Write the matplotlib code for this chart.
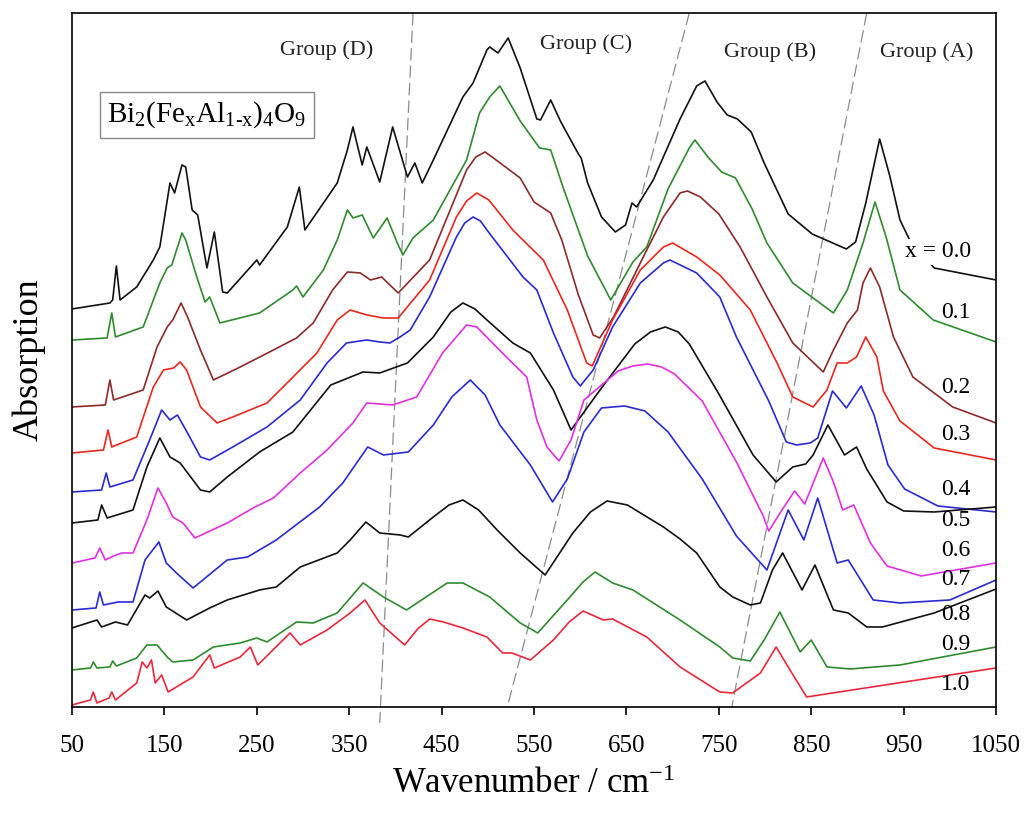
"""Far-IR absorption spectra of Bi2(FexAl1-x)4O9 for x = 0.0 ... 1.0,
stacked from top (x = 0.0) to bottom (x = 1.0), with the band groups A-D."""
import matplotlib
matplotlib.use("Agg")
import matplotlib.pyplot as plt

plt.rcParams['font.family'] = ['Liberation Serif', 'DejaVu Serif']
plt.rcParams['mathtext.fontset'] = 'custom'
plt.rcParams['mathtext.rm'] = 'Liberation Serif'
plt.rcParams['mathtext.it'] = 'Liberation Serif:italic'
plt.rcParams['mathtext.default'] = 'rm'

# spectra: wavenumber (cm-1) and stacked absorption (arb. units)
wn_00 = [50, 91, 94, 98, 102, 120, 138, 145, 156, 161, 169, 173, 180, 186, 196, 204, 213, 218, 250, 253,
         283, 296, 302, 337, 348, 354, 364, 369, 383, 397, 413, 421, 429, 441, 473, 484, 499, 502, 511, 522,
         535, 553, 557, 568, 579, 598, 601, 608, 623, 638, 649, 656, 661, 679, 708, 726, 735, 748, 759, 770,
         785, 799, 825, 851, 888, 898, 909, 924, 935, 946, 957, 983, 1050]
ab_00 = [398, 404, 407, 441, 407, 420, 447, 460, 524, 514, 542, 540, 497, 492, 439, 475, 415, 414, 447, 442,
         480, 520, 477, 524, 557, 580, 542, 560, 525, 580, 530, 544, 524, 547, 610, 624, 657, 660, 654, 669,
         639, 588, 587, 607, 585, 553, 549, 524, 490, 475, 482, 504, 500, 527, 588, 621, 626, 605, 592, 588,
         575, 544, 493, 473, 458, 465, 504, 568, 531, 487, 466, 439, 427]

wn_01 = [50, 88, 93, 97, 127, 145, 153, 158, 169, 173, 185, 194, 199, 210, 253, 289, 293, 300, 322, 337,
         348, 354, 364, 376, 391, 402, 408, 419, 441, 477, 491, 502, 513, 535, 556, 568, 582, 608, 633, 657,
         672, 695, 718, 724, 739, 753, 768, 786, 802, 830, 874, 889, 906, 919, 931, 946, 982, 1050]
ab_01 = [367, 369, 394, 370, 380, 424, 439, 442, 474, 467, 430, 405, 410, 384, 394, 417, 421, 410, 437, 467,
         497, 489, 492, 469, 489, 464, 452, 469, 487, 547, 594, 610, 621, 586, 559, 557, 518, 451, 407, 445,
         460, 518, 559, 567, 549, 535, 529, 498, 464, 424, 394, 417, 464, 505, 470, 417, 387, 365]

wn_02 = [50, 86, 91, 95, 127, 142, 153, 159, 168, 175, 189, 203, 232, 268, 293, 311, 332, 348, 362, 373,
         385, 403, 437, 477, 487, 497, 506, 535, 550, 568, 580, 598, 614, 621, 636, 672, 690, 708, 716, 730,
         750, 773, 802, 830, 863, 874, 889, 900, 906, 914, 924, 939, 960, 1003, 1050]
ab_02 = [300, 302, 327, 307, 317, 360, 380, 387, 404, 390, 357, 327, 340, 357, 369, 384, 417, 435, 434, 427,
         430, 414, 447, 537, 550, 555, 549, 529, 505, 494, 467, 412, 372, 369, 390, 457, 490, 514, 516, 510,
         493, 460, 410, 364, 335, 357, 384, 397, 424, 439, 420, 370, 330, 300, 284]

wn_03 = [50, 84, 89, 93, 120, 138, 149, 160, 167, 174, 189, 207, 224, 261, 286, 315, 337, 351, 369, 387,
         403, 437, 466, 477, 488, 501, 527, 549, 560, 586, 607, 613, 635, 665, 690, 700, 726, 751, 784, 813,
         830, 852, 867, 878, 889, 899, 909, 921, 928, 946, 983, 1050]
ab_03 = [254, 257, 277, 260, 270, 320, 337, 339, 345, 337, 300, 284, 290, 304, 327, 354, 387, 397, 392, 389,
         389, 427, 490, 506, 514, 507, 477, 457, 447, 397, 344, 341, 387, 437, 460, 464, 450, 432, 397, 344,
         310, 300, 317, 344, 344, 350, 370, 350, 316, 286, 259, 247]

wn_04 = [50, 82, 87, 91, 116, 134, 147, 156, 164, 175, 189, 199, 224, 261, 297, 326, 347, 369, 383, 394,
         405, 416, 437, 466, 475, 484, 492, 499, 538, 553, 571, 592, 600, 614, 635, 665, 690, 697, 726, 751,
         769, 804, 823, 834, 849, 857, 873, 888, 904, 918, 933, 951, 987, 1050]
ab_04 = [215, 217, 234, 220, 227, 267, 297, 287, 292, 274, 250, 247, 260, 280, 307, 344, 364, 367, 365, 364,
         370, 377, 410, 470, 484, 490, 486, 477, 430, 417, 374, 330, 321, 337, 380, 424, 444, 447, 434, 410,
         370, 306, 265, 262, 264, 269, 316, 299, 321, 292, 242, 218, 201, 195]

wn_05 = [50, 78, 82, 88, 116, 131, 145, 156, 167, 189, 199, 218, 253, 289, 330, 365, 383, 413, 441, 460,
         473, 486, 499, 527, 546, 571, 590, 623, 659, 676, 692, 706, 718, 750, 787, 812, 830, 844, 852, 868,
         886, 899, 910, 932, 950, 983, 1050]
ab_05 = [184, 187, 202, 189, 197, 240, 269, 250, 244, 217, 215, 230, 255, 275, 322, 335, 334, 344, 370, 395,
         404, 398, 387, 364, 354, 317, 277, 319, 363, 375, 380, 375, 363, 313, 252, 225, 240, 243, 252, 282,
         252, 260, 238, 205, 196, 195, 200]

wn_06 = [50, 75, 80, 86, 95, 104, 116, 131, 143, 152, 159, 170, 183, 218, 246, 268, 297, 326, 354, 369,
         397, 423, 451, 477, 488, 520, 542, 553, 564, 577, 590, 604, 641, 657, 673, 688, 702, 732, 769, 798,
         804, 819, 832, 843, 863, 874, 884, 896, 914, 932, 969, 1050]
ab_06 = [144, 149, 159, 147, 151, 154, 154, 187, 219, 204, 190, 184, 169, 184, 199, 209, 234, 257, 284, 304,
         302, 310, 354, 382, 380, 350, 330, 287, 260, 246, 267, 307, 336, 341, 343, 340, 333, 306, 245, 191,
         176, 198, 216, 203, 249, 225, 197, 202, 164, 141, 131, 144]

wn_07 = [50, 76, 80, 84, 100, 116, 129, 144, 152, 163, 181, 218, 240, 271, 318, 343, 370, 387, 405, 414,
         441, 461, 481, 497, 513, 546, 570, 586, 604, 623, 648, 670, 695, 732, 769, 802, 825, 842, 857, 878,
         890, 917, 946, 1000, 1050]
ab_07 = [97, 99, 115, 102, 105, 105, 147, 165, 144, 134, 119, 147, 150, 167, 200, 224, 260, 252, 254, 255,
         282, 310, 327, 312, 282, 242, 205, 228, 275, 299, 301, 296, 275, 228, 171, 137, 197, 167, 209, 144,
         147, 107, 104, 107, 127]

wn_08 = [50, 77, 82, 97, 110, 129, 134, 143, 152, 174, 199, 218, 253, 271, 297, 337, 351, 368, 383, 405,
         414, 441, 458, 473, 490, 510, 535, 562, 592, 611, 629, 651, 690, 708, 726, 751, 765, 784, 795, 808,
         819, 840, 854, 874, 890, 910, 927, 983, 1050]
ab_08 = [79, 87, 80, 85, 82, 112, 109, 116, 100, 87, 99, 107, 117, 120, 140, 154, 167, 185, 174, 172,
         170, 190, 202, 207, 197, 177, 154, 132, 174, 195, 206, 202, 180, 168, 154, 120, 110, 102, 104, 137,
         154, 117, 142, 97, 94, 80, 80, 94, 118]

wn_09 = [50, 70, 73, 77, 91, 94, 98, 120, 131, 142, 153, 159, 181, 203, 232, 250, 261, 293, 311, 337,
         365, 387, 412, 456, 473, 502, 535, 554, 586, 603, 616, 635, 657, 708, 751, 765, 784, 799, 816, 838,
         850, 867, 892, 946, 1050]
ab_09 = [37, 39, 45, 39, 40, 46, 41, 49, 62, 62, 50, 45, 47, 60, 64, 69, 65, 85, 84, 94,
         124, 110, 97, 124, 124, 110, 84, 74, 107, 125, 135, 124, 117, 87, 60, 49, 46, 67, 95, 55,
         67, 40, 38, 42, 60]

wn_10 = [50, 70, 73, 77, 90, 93, 97, 120, 126, 131, 136, 140, 147, 154, 181, 199, 204, 232, 243, 251,
         286, 297, 326, 351, 367, 383, 410, 424, 437, 452, 473, 499, 516, 526, 546, 571, 588, 603, 625, 635,
         672, 708, 751, 765, 795, 812, 827, 845, 873, 1050]
ab_10 = [2, 7, 15, 4, 9, 15, 7, 24, 45, 39, 47, 24, 32, 15, 30, 52, 39, 50, 60, 42,
         74, 62, 77, 94, 107, 84, 62, 78, 88, 85, 79, 70, 54, 54, 47, 67, 85, 96, 87, 88,
         70, 40, 15, 14, 34, 60, 37, 10, 14, 39]

spectra = [(wn_00, ab_00), (wn_01, ab_01), (wn_02, ab_02), (wn_03, ab_03), (wn_04, ab_04), (wn_05, ab_05),
           (wn_06, ab_06), (wn_07, ab_07), (wn_08, ab_08), (wn_09, ab_09), (wn_10, ab_10)]
colors = ['#111111', '#2e8b2e', '#8c2a2a', '#e8281e', '#2a2ad2', '#111111',
          '#e030e0', '#2a2ad2', '#111111', '#2e8b2e', '#e8283a']

# composition labels at the right end of each curve
x_labels = ['x = 0.0', '0.1', '0.2', '0.3', '0.4', '0.5', '0.6', '0.7', '0.8', '0.9', '1.0']
x_label_wn = [987, 1006, 1006, 1006, 1006, 1006, 1006, 1006, 1006, 1006, 1006]
x_label_ab = [455, 394, 319, 272, 217, 186, 156, 127, 92, 62, 22]

# band group boundaries (top wavenumber, bottom wavenumber) and group names
bound_top = [419, 718, 910]
bound_bot = [383, 521, 764]
groups = ['Group (D)', 'Group (C)', 'Group (B)', 'Group (A)']
group_wn = [326, 606, 805, 975]
group_ab = [657, 663, 655, 655]

fig = plt.figure(figsize=(10.29, 8.16), dpi=100)
ax = fig.add_axes([0.070, 0.1336, 0.898, 0.8505])

for (wn, ab), c in zip(spectra, colors):
    ax.plot(wn, ab, color=c, lw=1.2, zorder=2, solid_joinstyle='round')

# dashed group boundaries, the first one runs a little below the axis
for i, (t, b) in enumerate(zip(bound_top, bound_bot)):
    yb = -16 if i == 0 else 0
    ax.plot([t, b], [694, yb], color='#8c8c8c', lw=0.9, ls=(0, (10, 4)),
            clip_on=False, zorder=1)

for g, gx, gy in zip(groups, group_wn, group_ab):
    ax.text(gx, gy, g, ha='center', va='center', fontsize=16, color='#222222')

for i, (lab, lx, ly) in enumerate(zip(x_labels, x_label_wn, x_label_ab)):
    if i == 0:
        ax.text(lx, ly, lab, ha='center', va='center', fontsize=17, zorder=3,
                bbox=dict(boxstyle='square,pad=0.1', fc='white', ec='none'))
    else:
        ax.text(lx, ly, lab, ha='center', va='center', fontsize=17, zorder=3)

ax.text(88, 592, r'Bi$_2$(Fe$_x$Al$_{1\text{-}x}$)$_4$O$_9$', ha='left', va='center', fontsize=21,
        bbox=dict(boxstyle='square,pad=0.25', fc='white', ec='#888888', lw=1.0))

ax.set_xlim(50, 1050)
ax.set_ylim(0, 694)
ax.set_xticks(range(50, 1051, 100))
ax.set_yticks([])
ax.tick_params(axis='x', direction='out', length=6, width=1.2, labelsize=18, pad=14)
for s in ax.spines.values():
    s.set_linewidth(1.2)

ax.set_xlabel('Wavenumber / cm$^{-1}$', fontsize=25, labelpad=8)
ax.set_ylabel('Absorption', fontsize=26)
ax.yaxis.set_label_coords(-0.029, 0.5)

fig.savefig('out.png', dpi=100)
